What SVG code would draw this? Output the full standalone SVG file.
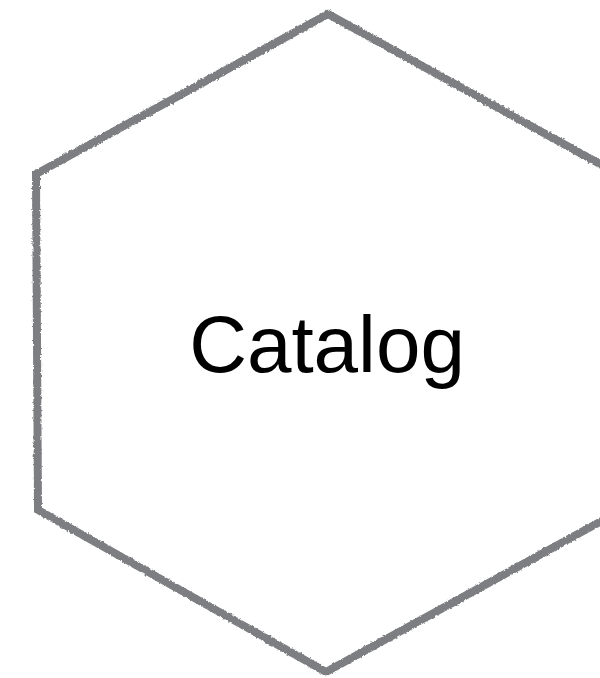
<svg xmlns="http://www.w3.org/2000/svg" width="600" height="678" viewBox="0 0 600 678">
  <style>
    .hex { fill: #ffffff; stroke: #7d7e82; stroke-width: 8; stroke-linejoin: miter; filter: url(#rough); }
    .label { font-family: "Liberation Sans", Arial, sans-serif; font-size: 80px; fill: #000000; text-anchor: middle; }
  </style>
  <defs>
    <filter id="rough" x="-5%" y="-5%" width="110%" height="110%">
      <feTurbulence type="fractalNoise" baseFrequency="0.4" numOctaves="2" seed="3" result="noise"/>
      <feDisplacementMap in="SourceGraphic" in2="noise" scale="3" xChannelSelector="R" yChannelSelector="G"/>
    </filter>
  </defs>
  <rect width="600" height="678" fill="#ffffff"/>
  <g id="catalog">
    <polygon class="hex" points="328,14 618,174 618,512 326,672 38,510 36,174"/>
    <text class="label" x="327" y="372">Catalog</text>
  </g>
</svg>
